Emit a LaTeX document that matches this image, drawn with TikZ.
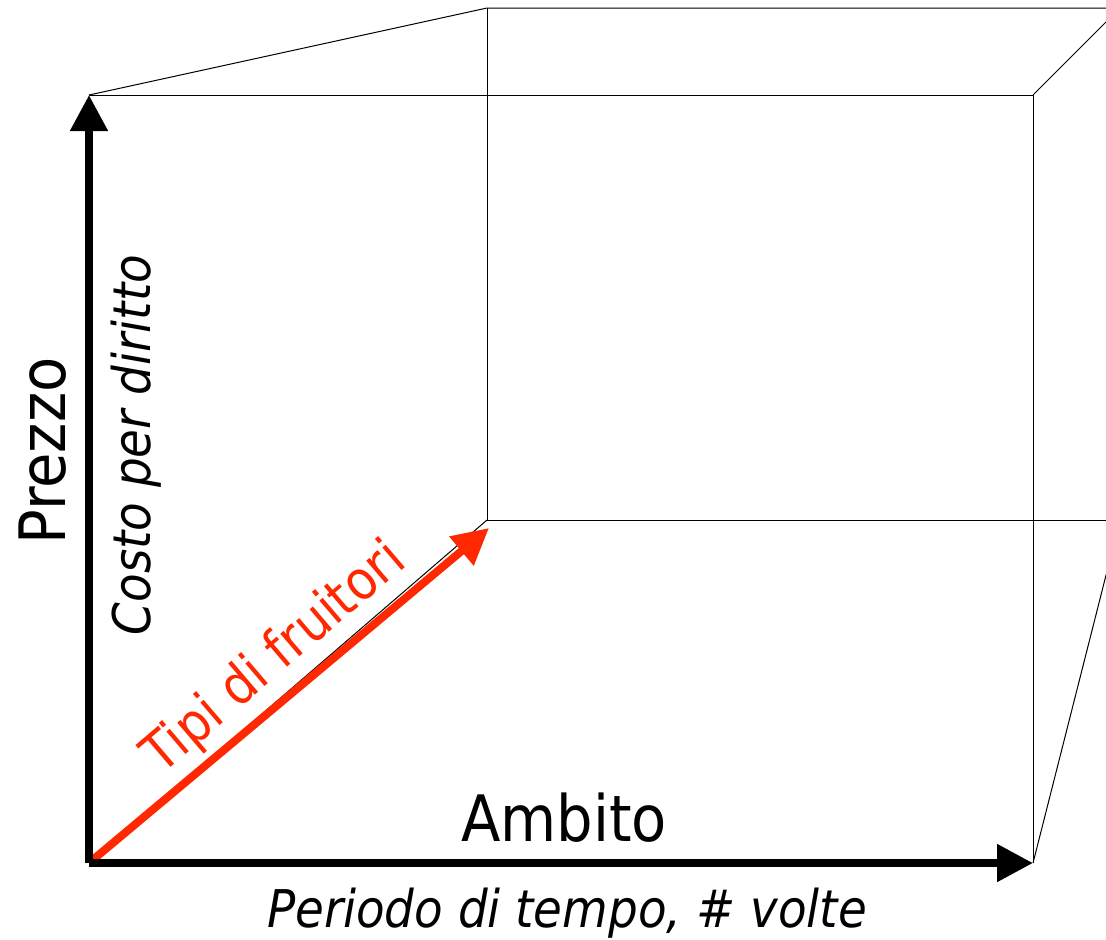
\documentclass[tikz,border=0pt]{standalone}
\usepackage{fontspec}
\setmainfont{DejaVu Sans Condensed}
\usetikzlibrary{arrows.meta}
\definecolor{fruitred}{RGB}{255,40,0}
\begin{document}
\begin{tikzpicture}[x=0.5pt,y=-0.5pt,
  thinedge/.style={draw=black,line width=0.5pt},
  axisarrow/.style={draw=black,line width=4pt,-{Triangle[length=18pt,width=18pt]}},
  redarrow/.style={draw=fruitred,line width=4pt,-{Triangle[length=18pt,width=18pt]}},
  bigtxt/.style={font=\fontsize{32}{38}\selectfont,inner sep=0pt},
  smalltxt/.style={font=\fontsize{26}{31}\selectfont\itshape,inner sep=0pt},
  redtxt/.style={font=\fontsize{27}{32}\selectfont,text=fruitred,inner sep=0pt}]
\useasboundingbox (0,0) rectangle (1106,939);
\clip (0,0) rectangle (1106,939);
% corners
\coordinate (O) at (89,863);
\coordinate (A) at (89,95);
\coordinate (B) at (1033,863);
\coordinate (C) at (1033,95);
\coordinate (P1) at (487,8);
\coordinate (P2) at (1120,8);
\coordinate (P3) at (1120,520);
\coordinate (P4) at (487,520);
\coordinate (redtip) at (489,528);
% thin cube edges
\draw[thinedge] (A) -- (P1) -- (P2);
\draw[thinedge] (C) -- (P2);
\draw[thinedge] (B) -- (P3);
\draw[thinedge] (P1) -- (P4) -- (P3);
\draw[thinedge] (A) -- (C) -- (B);
\draw[thinedge] (O) -- (P4);
% axes
\draw[redarrow] (O) -- (redtip);
\draw[axisarrow] (O) -- (A);
\draw[axisarrow] (O) -- (B);
% labels
\node[bigtxt,rotate=90,anchor=base] (prezzo) at (65,451) {Prezzo};
\node[smalltxt,rotate=90,anchor=base] (costo) at (150,445) {Costo per diritto};
\node[bigtxt,anchor=base] (ambito) at (564,841) {Ambito};
\node[smalltxt,anchor=base] (periodo) at (567,927) {Periodo di tempo, \# volte};
\node[redtxt,rotate=40.5,anchor=base] (tipi) at (285,670) {Tipi di fruitori};
\end{tikzpicture}
\end{document}
